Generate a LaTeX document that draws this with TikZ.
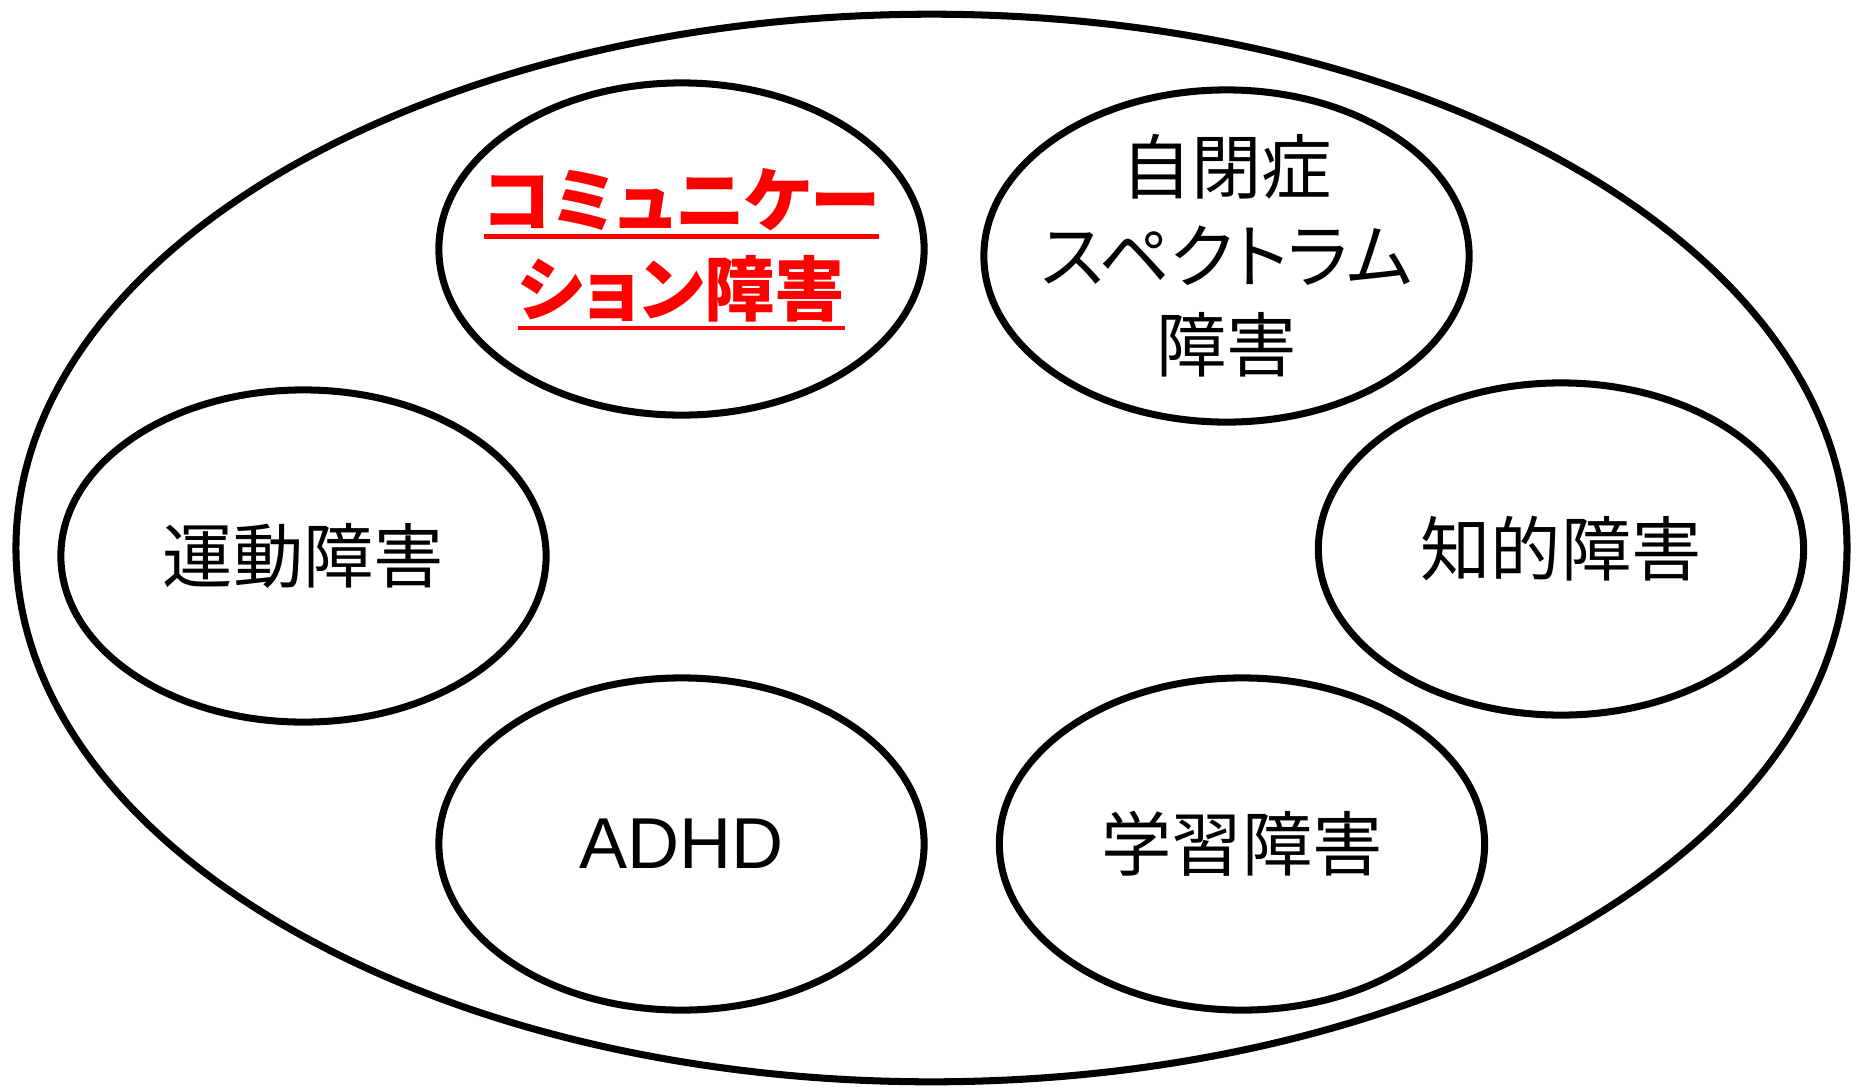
\documentclass[tikz,border=0pt]{standalone}
\usepackage{fontspec}
\usetikzlibrary{shapes.geometric}
\newfontfamily\jpfont[CharacterWidth=AlternateProportional]{Noto Sans CJK JP}
\newfontfamily\enfont{Liberation Sans}
\newcommand{\redul}[1]{\vtop{\hbox{#1}\kern1pt\hrule height 1.2pt}}
\begin{document}
\begin{tikzpicture}[x=0.01cm,y=-0.01cm,
    outer/.style={draw,line width=2pt,ellipse,inner sep=0pt,minimum width=18.3cm,minimum height=10.67cm},
    item/.style={draw,line width=2pt,ellipse,inner sep=-1cm,minimum width=4.85cm,minimum height=3.32cm,align=center,font=\jpfont\fontsize{20}{25.3}\selectfont}]
  \useasboundingbox (0,0) rectangle (1856,1087);

  % 外側の楕円
  \node[outer] (all) at (931.5,548) {};

  % 上段
  \node[item,text=red,font=\jpfont\bfseries\fontsize{20}{25.3}\selectfont] (comm) at (681.5,249) {\redul{コミュニケー}\\\redul{ション障害}};
  \node[item] (asd) at (1226.5,256) {自閉症\\スペクトラム\\障害};

  % 中段
  \node[item] (motor) at (303.5,556) {運動障害};
  \node[item] (intel) at (1561,549) {知的障害};

  % 下段
  \node[item,font=\enfont\fontsize{20.5}{25}\selectfont] (adhd) at (681.5,844) {ADHD};
  \node[item] (ld) at (1242,844) {学習障害};
\end{tikzpicture}
\end{document}
